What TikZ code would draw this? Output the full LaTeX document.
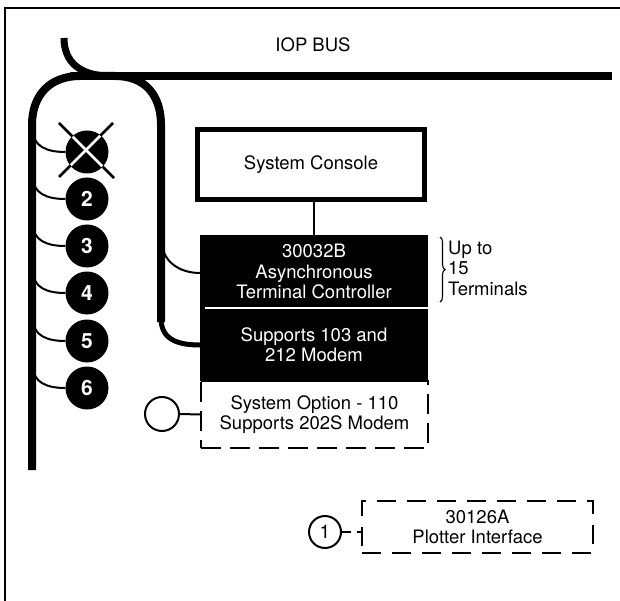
\documentclass[tikz,border=0pt]{standalone}
\usepackage{fontspec}
\setmainfont{TeX Gyre Heros}
\usetikzlibrary{decorations.pathreplacing}
\begin{document}
\begin{tikzpicture}[x=1pt,y=-1pt,
  lbl/.style={font=\fontsize{18.5}{20.5}\selectfont, align=center, inner sep=0pt},
  busline/.style={line width=8pt},
  tap/.style={line width=2pt},
  dev/.style={circle, fill=black, minimum size=43pt, inner sep=0pt, text=white, font=\fontsize{21}{22}\selectfont\bfseries},
  ctrlbox/.style={lbl, fill=black, text=white, minimum width=228pt, minimum height=73pt},
  dashbox/.style={lbl, draw, line width=1.8pt, dash pattern=on 20pt off 9pt},
  smallcirc/.style={circle, draw, line width=2pt, fill=white, inner sep=0pt}]
\useasboundingbox (0,0) rectangle (620,601);
% frame
\draw[line width=1.5pt] (5,601) -- (5,8) -- (620,8);
% bus label
\node[lbl] (buslbl) at (313,45) {IOP BUS};
% bus
\draw[busline] (70,76) -- (612,76);
\draw[line width=7pt] (64,38) .. controls (64,62) and (80,76) .. (110,76);
\draw[busline] (32,470) -- (32,125) .. controls (32,95) and (50,76) .. (80,76) -- (115,76)
   .. controls (145,76) and (161,95) .. (161,125) -- (161,322);
% console
\node[lbl, draw, line width=5pt, minimum width=227pt, minimum height=70pt] (console) at (311,165) {System Console};
% controller
\node[ctrlbox] (ctrlA) at (314,271.5) {30032B\\Asynchronous\\Terminal Controller};
\node[ctrlbox] (ctrlB) at (314,344.5) {Supports 103 and\\212 Modem};
\draw[white, line width=2pt] (205,308) -- (428,308);
\draw[line width=1.5pt] (console.south -| ctrlA.north) -- (ctrlA.north);
% option box
\node[dashbox, minimum width=227pt, minimum height=67pt] (opt) at (314.5,414.5) {System Option - 110\\Supports 202S Modem};
\fill[black] (200.5,376) rectangle (428,382);
\node[smallcirc, minimum size=34pt] (oc) at (162,414) {};
\draw[line width=2pt] (oc.east) -- (opt.west);
% bus taps to controller
\coordinate (tapA) at (162,243);
\coordinate (tapB) at (161,318);
\draw[tap] (tapA) .. controls (163,262) and (180,273) .. (ctrlA.west |- 0,273);
\draw[line width=5pt] (tapB) .. controls (161,338) and (175,345) .. (ctrlB.west |- 0,345);
% brace
\draw[decorate, decoration={brace, amplitude=5pt}, line width=1.1pt] (440,237) -- (440,302);
\node[lbl, align=left, anchor=west] (terms) at (448,268) {Up to\\15\\Terminals};
% devices
\draw[black, line width=2.5pt] (59,123) -- (114,178) (113,123) -- (59,177);
\node[dev] (dX) at (87,152) {};
\begin{scope}
\clip (87,152) circle (21pt);
\draw[white, line width=2.5pt] (59,123) -- (114,178) (113,123) -- (59,177);
\end{scope}
\node[dev] (d2) at (87,199) {2};
\node[dev] (d3) at (87,246) {3};
\node[dev] (d4) at (87,293) {4};
\node[dev] (d5) at (87,341) {5};
\node[dev] (d6) at (87,388) {6};
\foreach \n/\y in {X/152,2/199,3/246,4/293,5/341,6/388}{
  \coordinate (t\n) at (33,\y-22);
  \draw[tap] (t\n) .. controls (33,\y-6) and (46,\y) .. (d\n.west);
}
% plotter
\node[dashbox, minimum width=231pt, minimum height=52pt, dash pattern=on 19pt off 11pt] (plot) at (477.5,527) {30126A\\Plotter Interface};
\node[smallcirc, minimum size=32pt, font=\fontsize{19}{20}\selectfont] (p1) at (325,532) {1};
\draw[line width=1.8pt, dash pattern=on 9pt off 6pt] (p1.east) -- (p1.east -| plot.west);
\end{tikzpicture}
\end{document}
